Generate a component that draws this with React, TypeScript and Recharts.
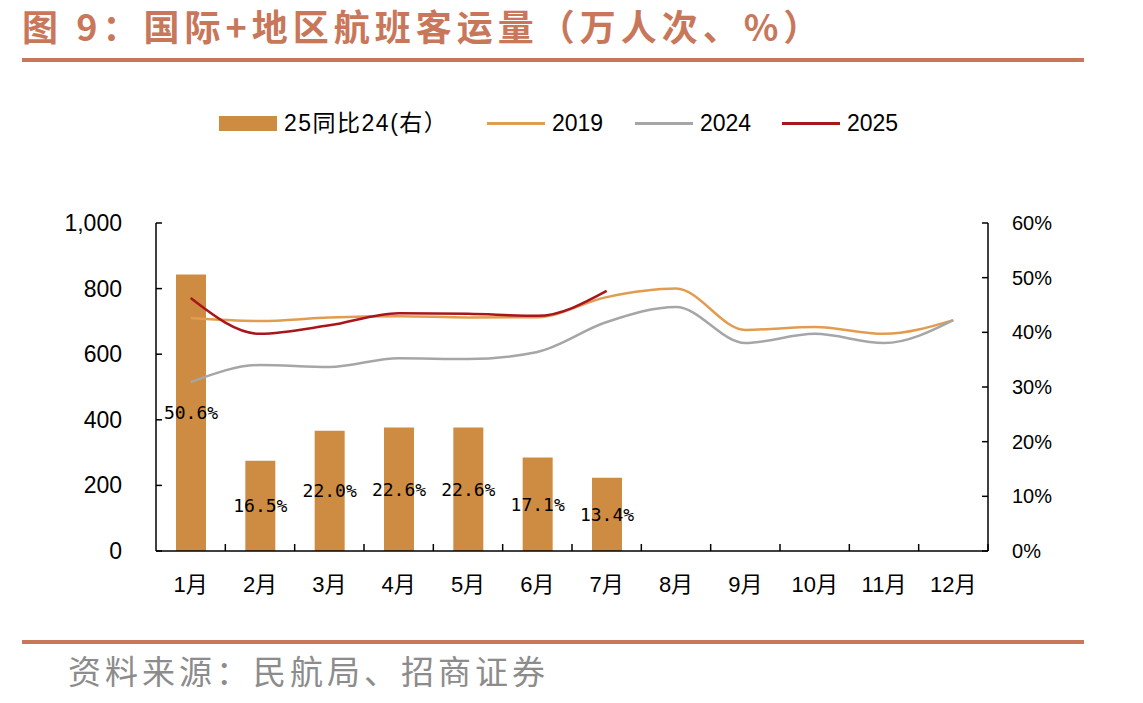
import { Bar, ComposedChart, LabelList, Line, XAxis, YAxis } from "recharts";

// 国际+地区航班客运量（万人次）与 25 年同比（%）
const months = ["1月", "2月", "3月", "4月", "5月", "6月", "7月", "8月", "9月", "10月", "11月", "12月"];
const yoy2524 = [50.6, 16.5, 22.0, 22.6, 22.6, 17.1, 13.4];
const pax2019 = [710, 701, 712, 716, 712, 713, 774, 800, 674, 683, 662, 704];
const pax2024 = [515, 567, 561, 588, 585, 607, 698, 744, 634, 662, 634, 704];
const pax2025 = [771, 662, 688, 725, 723, 717, 793];

const leftTicks = [0, 200, 400, 600, 800, 1000];
const rightTicks = [0, 10, 20, 30, 40, 50, 60];

const BAR_COLOR = "#CD8C41";
const C2019 = "#E29C4F";
const C2024 = "#A6A6A6";
const C2025 = "#A8161B";
const ACCENT = "#C9775A";

const W = 1143;
const H = 703;
const PLOT_LEFT = 156;
const PLOT_RIGHT = 988;
const PLOT_TOP = 223;
const PLOT_BOTTOM = 551;
const BAND = (PLOT_RIGHT - PLOT_LEFT) / months.length;
const TICK_GAP = 10;

const data = months.map((m, i) => ({
  month: m,
  yoy: yoy2524[i],
  y2019: pax2019[i],
  y2024: pax2024[i],
  y2025: pax2025[i],
}));

const legendItems = [
  { label: "25同比24(右）", color: BAR_COLOR, kind: "bar", left: 219 },
  { label: "2019", color: C2019, kind: "line", left: 487 },
  { label: "2024", color: C2024, kind: "line", left: 635 },
  { label: "2025", color: C2025, kind: "line", left: 782 },
];

function fmtThousands(v: number) {
  return v.toLocaleString("en-US");
}

// y-axis ticks point into the plot, so draw them by hand
function LeftTick(props: any) {
  const { x, y, payload } = props;
  const axisX = x + TICK_GAP;
  return (
    <g>
      <line x1={axisX} x2={axisX + 6} y1={y} y2={y} stroke="#000" strokeWidth={1.5} />
      <text x={x - 24} y={y} dy={8} textAnchor="end" fontFamily="Liberation Sans, Arial" fontSize={23} fill="#000">
        {fmtThousands(payload.value)}
      </text>
    </g>
  );
}

function RightTick(props: any) {
  const { x, y, payload } = props;
  const axisX = x - TICK_GAP;
  return (
    <g>
      <line x1={axisX} x2={axisX - 6} y1={y} y2={y} stroke="#000" strokeWidth={1.5} />
      <text x={x + 14} y={y} dy={7} textAnchor="start" fontFamily="Liberation Sans, Arial" fontSize={20} fill="#000">
        {payload.value}%
      </text>
    </g>
  );
}

// x-axis ticks sit on the band edges and point up
function MonthTick(props: any) {
  const { x, y, payload } = props;
  const axisY = y - TICK_GAP;
  return (
    <g>
      <line x1={x + BAND / 2} x2={x + BAND / 2} y1={axisY} y2={axisY - 7} stroke="#000" strokeWidth={1.5} />
      <text x={x} y={axisY + 41} textAnchor="middle" fontFamily="Liberation Sans, Noto Sans CJK SC" fontSize={22} fill="#000">
        {payload.value}
      </text>
    </g>
  );
}

function Legend() {
  return (
    <>
      {legendItems.map((it) => (
        <div
          key={it.label}
          style={{ position: "absolute", left: it.left, top: 108, height: 30, display: "flex", alignItems: "center" }}
        >
          {it.kind === "bar" ? (
            <div style={{ width: 58, height: 15, background: it.color }} />
          ) : (
            <div style={{ width: 58, height: 3, background: it.color }} />
          )}
          <span
            style={{
              marginLeft: 7,
              fontFamily: "Liberation Sans, Noto Sans CJK SC",
              fontSize: 23,
              letterSpacing: it.kind === "bar" ? 1.5 : 0,
              color: "#000",
              lineHeight: "30px",
            }}
          >
            {it.label}
          </span>
        </div>
      ))}
    </>
  );
}

export default function App() {
  return (
    <div style={{ position: "absolute", left: 0, top: 0, width: W, height: H, background: "#fff", overflow: "hidden" }}>
      <div
        style={{
          position: "absolute",
          left: 22,
          top: 5,
          fontFamily: "Noto Sans CJK SC",
          fontWeight: 700,
          fontSize: 36,
          letterSpacing: 5,
          color: ACCENT,
          whiteSpace: "nowrap",
          lineHeight: "40px",
        }}
      >
        图 9：国际+地区航班客运量（万人次、%）
      </div>
      <div style={{ position: "absolute", left: 22, top: 58, width: 1062, height: 4, background: ACCENT }} />

      <Legend />

      <div style={{ position: "absolute", left: 0, top: 0 }}>
        <ComposedChart
          width={W}
          height={H}
          data={data}
          margin={{ top: PLOT_TOP, right: W - PLOT_RIGHT - 60, bottom: H - PLOT_BOTTOM - 40, left: PLOT_LEFT - 70 }}
        >
          <XAxis
            dataKey="month"
            xAxisId="m"
            height={40}
            tickLine={false}
            tickSize={0}
            tickMargin={TICK_GAP}
            axisLine={{ stroke: "#000", strokeWidth: 1.5 }}
            tick={<MonthTick />}
            interval={0}
          />
          <YAxis
            yAxisId="left"
            orientation="left"
            width={70}
            domain={[0, 1000]}
            ticks={leftTicks}
            tickLine={false}
            tickSize={0}
            tickMargin={TICK_GAP}
            axisLine={{ stroke: "#000", strokeWidth: 1.5 }}
            tick={<LeftTick />}
          />
          <YAxis
            yAxisId="right"
            orientation="right"
            width={60}
            domain={[0, 60]}
            ticks={rightTicks}
            tickLine={false}
            tickSize={0}
            tickMargin={TICK_GAP}
            axisLine={{ stroke: "#000", strokeWidth: 1.5 }}
            tick={<RightTick />}
          />
          <Bar dataKey="yoy" xAxisId="m" yAxisId="right" fill={BAR_COLOR} barSize={30} isAnimationActive={false}>
            <LabelList
              dataKey="yoy"
              position="center"
              formatter={(v: any) => (v == null ? "" : `${Number(v).toFixed(1)}%`)}
              fill="#000"
              fontSize={18}
              fontFamily="DejaVu Sans Mono"
            />
          </Bar>
          <Line dataKey="y2019" xAxisId="m" yAxisId="left" type="monotone" stroke={C2019} strokeWidth={2.5} dot={false} isAnimationActive={false} />
          <Line dataKey="y2024" xAxisId="m" yAxisId="left" type="monotone" stroke={C2024} strokeWidth={2.5} dot={false} isAnimationActive={false} />
          <Line dataKey="y2025" xAxisId="m" yAxisId="left" type="monotone" stroke={C2025} strokeWidth={2.5} dot={false} isAnimationActive={false} />
        </ComposedChart>
      </div>

      <div style={{ position: "absolute", left: 22, top: 640, width: 1062, height: 4, background: ACCENT }} />
      <div
        style={{
          position: "absolute",
          left: 68,
          top: 650,
          fontFamily: "Noto Sans CJK SC",
          fontSize: 33,
          letterSpacing: 4,
          color: "#8C8C8C",
          whiteSpace: "nowrap",
          lineHeight: "40px",
        }}
      >
        资料来源：民航局、招商证券
      </div>
    </div>
  );
}
